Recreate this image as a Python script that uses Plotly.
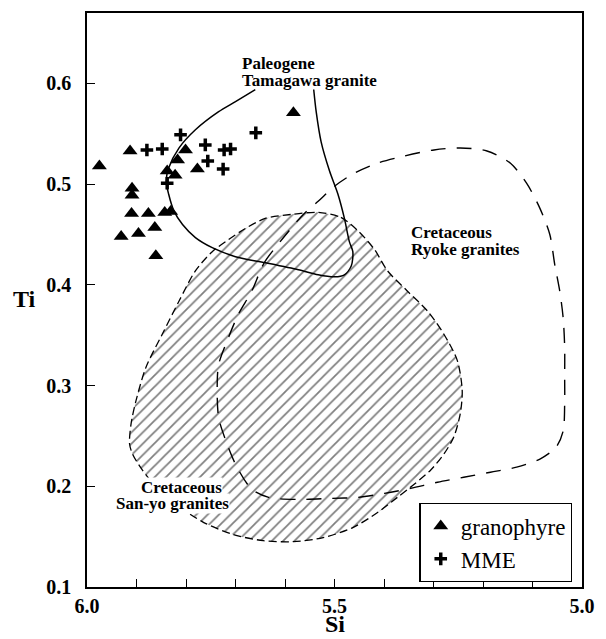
import plotly.graph_objects as go

# Granophyre samples (Si, Ti)
granophyre_si = [5.975, 5.913, 5.909, 5.909, 5.910, 5.876, 5.931, 5.896, 5.863,
                 5.861, 5.843, 5.831, 5.838, 5.822, 5.817, 5.801, 5.777, 5.583]
granophyre_ti = [0.518, 0.533, 0.496, 0.489, 0.471, 0.471, 0.448, 0.451, 0.457,
                 0.429, 0.472, 0.473, 0.513, 0.509, 0.524, 0.534, 0.515, 0.571]

# Mafic microgranular enclaves (Si, Ti)
mme_si = [5.879, 5.848, 5.811, 5.838, 5.761, 5.756, 5.725, 5.723, 5.710, 5.659]
mme_ti = [0.534, 0.535, 0.549, 0.501, 0.539, 0.523, 0.515, 0.534, 0.535, 0.551]

# Paleogene Tamagawa granite field (open solid curve)
tamagawa_si = [5.660, 5.700, 5.734, 5.781, 5.814, 5.835, 5.840, 5.835, 5.824, 5.807,
               5.781, 5.747, 5.700, 5.640, 5.573, 5.533, 5.500, 5.480, 5.466, 5.463,
               5.470, 5.480, 5.493, 5.510, 5.527, 5.537, 5.542]
tamagawa_ti = [0.594, 0.582, 0.572, 0.554, 0.536, 0.516, 0.503, 0.490, 0.473, 0.460,
               0.447, 0.437, 0.428, 0.422, 0.415, 0.410, 0.408, 0.410, 0.419, 0.433,
               0.443, 0.466, 0.490, 0.513, 0.542, 0.572, 0.594]

# Cretaceous Ryoke granites field (closed dashed curve)
ryoke_si = [5.667, 5.642, 5.603, 5.563, 5.533, 5.500, 5.460, 5.413, 5.359, 5.299,
            5.246, 5.192, 5.145, 5.112, 5.085, 5.065, 5.055, 5.045, 5.038, 5.035,
            5.035, 5.035, 5.038, 5.052, 5.085, 5.132, 5.185, 5.239, 5.292, 5.346,
            5.399, 5.453, 5.506, 5.573, 5.633, 5.667, 5.697, 5.717, 5.734, 5.737,
            5.734, 5.714, 5.694, 5.667]
ryoke_ti = [0.394, 0.422, 0.447, 0.470, 0.483, 0.498, 0.511, 0.521, 0.528, 0.534,
            0.536, 0.533, 0.521, 0.501, 0.476, 0.450, 0.420, 0.394, 0.367, 0.338,
            0.308, 0.282, 0.255, 0.239, 0.227, 0.219, 0.214, 0.209, 0.204, 0.198,
            0.193, 0.189, 0.188, 0.187, 0.189, 0.197, 0.219, 0.242, 0.268, 0.298,
            0.321, 0.348, 0.371, 0.394]

# Cretaceous San-yo granites field (closed hatched area)
sanyo_si = [5.533, 5.487, 5.453, 5.419, 5.393, 5.353, 5.312, 5.279, 5.252, 5.242,
            5.246, 5.259, 5.279, 5.306, 5.339, 5.373, 5.413, 5.463, 5.523, 5.583,
            5.644, 5.704, 5.764, 5.814, 5.858, 5.888, 5.908, 5.914, 5.911, 5.901,
            5.881, 5.848, 5.814, 5.781, 5.747, 5.714, 5.680, 5.640, 5.587, 5.533]
sanyo_ti = [0.472, 0.467, 0.454, 0.435, 0.414, 0.394, 0.374, 0.351, 0.325, 0.295,
            0.272, 0.249, 0.232, 0.216, 0.202, 0.189, 0.174, 0.159, 0.149, 0.145,
            0.146, 0.152, 0.164, 0.180, 0.198, 0.216, 0.232, 0.242, 0.262, 0.285,
            0.318, 0.351, 0.384, 0.414, 0.433, 0.445, 0.456, 0.466, 0.470, 0.472]

x_tick_vals = [6.0, 5.9, 5.8, 5.7, 5.6, 5.5, 5.4, 5.3, 5.2, 5.1, 5.0]
x_tick_text = ["6.0", "", "", "", "", "5.5", "", "", "", "", "5.0"]
y_tick_vals = [0.1, 0.2, 0.3, 0.4, 0.5, 0.6]
y_tick_text = ["0.1", "0.2", "0.3", "0.4", "0.5", "0.6"]

SERIF = "Liberation Serif, Times New Roman, serif"

fig = go.Figure()

# San-yo field: diagonal hatching with a short-dash outline
fig.add_trace(go.Scatter(
    x=sanyo_si, y=sanyo_ti, mode="lines", fill="toself",
    fillcolor="white",
    fillpattern=dict(shape="/", size=8, solidity=0.22, fgcolor="black", bgcolor="white"),
    line=dict(color="black", width=1.3, dash="8px,4px", shape="spline", smoothing=0.8),
    showlegend=False, hoverinfo="skip"))

# Ryoke field: long-dash outline
fig.add_trace(go.Scatter(
    x=ryoke_si, y=ryoke_ti, mode="lines",
    line=dict(color="black", width=1.4, dash="15px,11px", shape="spline", smoothing=0.8),
    showlegend=False, hoverinfo="skip"))

# Tamagawa field: solid outline
fig.add_trace(go.Scatter(
    x=tamagawa_si, y=tamagawa_ti, mode="lines",
    line=dict(color="black", width=1.5, shape="spline", smoothing=0.8),
    showlegend=False, hoverinfo="skip"))

fig.add_trace(go.Scatter(
    x=granophyre_si, y=granophyre_ti, mode="markers", name="granophyre",
    marker=dict(symbol="triangle-up", size=13, color="black", line=dict(width=0))))

fig.add_trace(go.Scatter(
    x=mme_si, y=mme_ti, mode="markers", name="MME",
    marker=dict(symbol="cross-thin", size=9, color="black",
                line=dict(width=3.5, color="black"))))

label_font = dict(family=SERIF, size=17, color="black", weight="bold")
field_labels = [
    (5.688, 0.6198, "Paleogene", "left", None),
    (5.688, 0.6030, "Tamagawa granite", "left", None),
    (5.3465, 0.4518, "Cretaceous", "left", None),
    (5.3465, 0.4350, "Ryoke granites", "left", None),
    (5.809, 0.1993, "Cretaceous", "center", "white"),
    (5.828, 0.1825, "San-yo granites", "center", "white"),
]
for sx, ty, txt, anchor, bg in field_labels:
    fig.add_annotation(x=sx, y=ty, text=txt, showarrow=False, xanchor=anchor,
                       yanchor="middle", font=label_font, bgcolor=bg, borderpad=0)

title_font = dict(family=SERIF, size=24, color="black", weight="bold")
fig.add_annotation(xref="paper", yref="paper", x=-0.127, y=0.502, text="Ti",
                   showarrow=False, xanchor="center", yanchor="middle", font=title_font)
fig.add_annotation(xref="paper", yref="paper", x=0.501, y=-0.0903, text="Si",
                   showarrow=False, xanchor="center", yanchor="bottom", font=title_font)

tick_font = dict(family=SERIF, size=20, color="black", weight="bold")
fig.update_xaxes(range=[6.0, 5.0], tickmode="array", tickvals=x_tick_vals,
                 ticktext=x_tick_text, ticks="inside", ticklen=8, tickwidth=1.3,
                 tickcolor="black", showline=True, linecolor="black", linewidth=1.5,
                 mirror=True, showgrid=False, zeroline=False, tickfont=tick_font,
                 ticklabelstandoff=0)
fig.update_yaxes(range=[0.1, 0.67], tickmode="array", tickvals=y_tick_vals,
                 ticktext=y_tick_text, ticks="inside", ticklen=8, tickwidth=1.3,
                 tickcolor="black", showline=True, linecolor="black", linewidth=1.5,
                 mirror=True, showgrid=False, zeroline=False, tickfont=tick_font,
                 ticklabelstandoff=10)

fig.update_layout(
    width=606, height=639,
    margin=dict(l=87, r=20, t=11, b=52),
    paper_bgcolor="white", plot_bgcolor="white",
    font=dict(family=SERIF, color="black"),
    legend=dict(x=0.6716, y=0.146, xanchor="left", yanchor="top",
                bordercolor="black", borderwidth=1.3, bgcolor="white",
                font=dict(family=SERIF, size=23, color="black"),
                tracegroupgap=0),
)

fig.write_html("out.html")
